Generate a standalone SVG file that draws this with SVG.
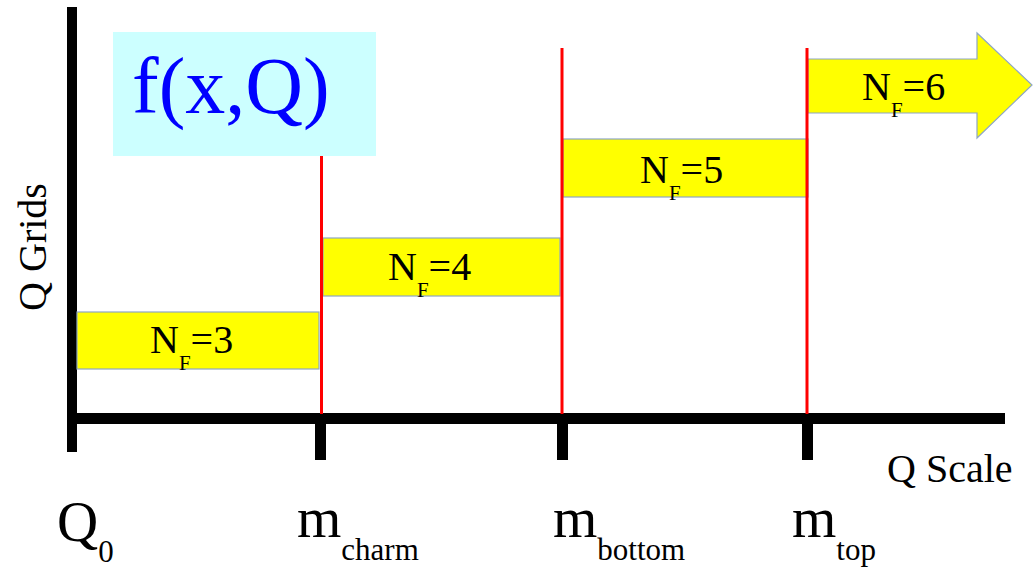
<svg xmlns="http://www.w3.org/2000/svg" width="1034" height="568" viewBox="0 0 1034 568" font-family="'Liberation Serif', 'Times New Roman', serif">
<style>
  text, tspan { font-family: 'Liberation Serif', 'Times New Roman', serif; fill: #000000; }
  .axis { fill: #000000; }
  .band { fill: #ffff00; stroke: #8ea6c4; stroke-width: 1.2; }
  .thr { stroke: #ff0000; stroke-width: 3; fill: none; }
  .nf { font-size: 40px; }
  .sub { font-size: 21px; }
  .big { font-size: 57px; }
  .msub { font-size: 31px; }
</style>
<rect width="1034" height="568" fill="#ffffff"/>

<g id="axes">
  <rect class="axis" x="67" y="7" width="10" height="445"/>
  <rect class="axis" x="67" y="413" width="938" height="11"/>
  <rect class="axis" x="315" y="420" width="11" height="40"/>
  <rect class="axis" x="557" y="420" width="11" height="40"/>
  <rect class="axis" x="802" y="420" width="11" height="40"/>
</g>

<g id="fxq">
  <rect x="113" y="32" width="263" height="124" fill="#ccffff"/>
  <text x="132" y="113" font-size="80" font-family="'Liberation Serif', serif" style="fill:#0000ff">f(x,Q)</text>
</g>

<g id="nf3">
  <rect class="band" x="77" y="312" width="242" height="57"/>
  <text class="nf" x="150" y="353" font-family="'Liberation Serif', serif">N<tspan class="sub" dy="17">F</tspan><tspan dy="-17">=3</tspan></text>
</g>
<g id="nf4">
  <rect class="band" x="323" y="238" width="237" height="58"/>
  <text class="nf" x="388" y="280" font-family="'Liberation Serif', serif">N<tspan class="sub" dy="17">F</tspan><tspan dy="-17">=4</tspan></text>
</g>
<g id="nf5">
  <rect class="band" x="563" y="139" width="245" height="58"/>
  <text class="nf" x="640" y="183" font-family="'Liberation Serif', serif">N<tspan class="sub" dy="17">F</tspan><tspan dy="-17">=5</tspan></text>
</g>
<g id="nf6">
  <polygon class="band" points="808,59 977,59 977,33 1032,85 977,138 977,113 808,113"/>
  <text class="nf" x="862" y="100" font-family="'Liberation Serif', serif">N<tspan class="sub" dy="17">F</tspan><tspan dy="-17">=6</tspan></text>
</g>

<g id="connectors">
  <line class="thr" x1="321.5" y1="156" x2="321.5" y2="414"/>
  <line class="thr" x1="562" y1="48" x2="562" y2="414"/>
  <line class="thr" x1="807" y1="48" x2="807" y2="414"/>
</g>

<g id="labels" font-family="'Liberation Serif', serif">
  <text x="46" y="247" font-size="40" text-anchor="middle" transform="rotate(-90 46 247)">Q Grids</text>
  <text x="887" y="482" font-size="40">Q Scale</text>
  <text class="big" x="57" y="541">Q<tspan class="msub" dy="21">0</tspan></text>
  <text class="big" x="297" y="537">m<tspan class="msub" dy="23">charm</tspan></text>
  <text class="big" x="553" y="537">m<tspan class="msub" dy="23">bottom</tspan></text>
  <text class="big" x="792" y="537">m<tspan class="msub" dy="23">top</tspan></text>
</g>
</svg>
